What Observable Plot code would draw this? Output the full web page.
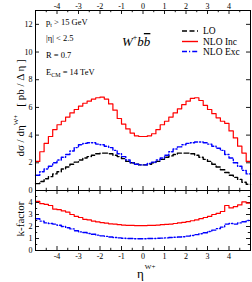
<!DOCTYPE html>
<html><head><meta charset="utf-8">
<script src="https://cdn.jsdelivr.net/npm/d3@7"></script>
<script src="https://cdn.jsdelivr.net/npm/@observablehq/plot@0.6"></script>
<style>
body{margin:0;background:#fff;}
#chart{position:relative;width:252px;height:282px;font-family:"Liberation Serif",serif;}
#chart svg{display:block;}
</style></head><body><div id="chart"></div>
<script>
// ---- data ----
const etaCenters = [-4.9,-4.7,-4.5,-4.3,-4.1,-3.9,-3.7,-3.5,-3.3,-3.1,-2.9,-2.7,-2.5,-2.3,-2.1,-1.9,-1.7,-1.5,-1.3,-1.1,-0.9,-0.7,-0.5,-0.3,-0.1,0.1,0.3,0.5,0.7,0.9,1.1,1.3,1.5,1.7,1.9,2.1,2.3,2.5,2.7,2.9,3.1,3.3,3.5,3.7,3.9,4.1,4.3,4.5,4.7,4.9];
const binWidth = 0.2;
const lo = [0.5,0.65,0.85,1.0,1.2,1.35,1.55,1.7,1.9,2.05,2.2,2.35,2.45,2.55,2.65,2.7,2.7,2.65,2.55,2.45,2.3,2.1,2.0,1.9,1.85,1.85,1.9,2.0,2.1,2.25,2.4,2.5,2.6,2.7,2.7,2.7,2.65,2.55,2.4,2.25,2.1,1.9,1.7,1.5,1.3,1.1,0.95,0.8,0.6,0.45];
const nloInc = [2.1,2.8,3.4,3.9,4.4,4.75,5.0,5.3,5.6,5.85,6.1,6.3,6.45,6.6,6.7,6.75,6.6,6.25,5.8,5.2,4.8,4.45,4.15,3.95,3.9,3.9,3.95,4.1,4.4,4.75,5.0,5.3,5.6,5.9,6.2,6.45,6.65,6.7,6.5,6.15,5.85,5.55,5.25,5.0,4.85,4.3,3.8,3.2,2.7,2.1];
const nloExc = [1.1,1.35,1.55,1.75,2.0,2.2,2.4,2.6,2.85,3.1,3.3,3.4,3.45,3.45,3.35,3.3,3.2,3.1,2.9,2.65,2.45,2.2,2.0,1.9,1.85,1.85,1.95,2.05,2.2,2.35,2.55,2.8,3.0,3.15,3.3,3.4,3.45,3.5,3.5,3.45,3.35,3.2,3.05,2.9,2.6,2.35,2.0,1.75,1.45,1.2];
const kInc = [4.1,3.9,3.85,3.75,3.45,3.4,3.3,3.2,3.0,2.85,2.75,2.6,2.55,2.45,2.38,2.33,2.28,2.22,2.2,2.15,2.12,2.1,2.1,2.08,2.08,2.08,2.1,2.1,2.12,2.15,2.18,2.2,2.25,2.3,2.35,2.4,2.48,2.55,2.65,2.75,2.85,3.0,3.1,3.25,3.75,3.55,3.65,3.8,4.05,3.95];
const kExc = [2.65,2.45,2.3,2.25,2.2,2.1,2.0,1.9,1.8,1.65,1.55,1.5,1.42,1.35,1.28,1.22,1.18,1.12,1.08,1.05,1.02,1.0,1.0,0.98,0.98,0.98,1.0,1.0,1.02,1.03,1.05,1.08,1.1,1.12,1.15,1.2,1.25,1.32,1.4,1.48,1.58,1.7,1.82,1.95,2.2,2.25,2.2,2.3,2.4,2.5];
const xMajor = [-4,-3,-2,-1,0,1,2,3,4];
const xMinor = [-4.5,-3.5,-2.5,-1.5,-0.5,0.5,1.5,2.5,3.5,4.5];
const yTopMajor = [0,2,4,6,8,10,12];
const yBotMajor = [0,1,2,3,4,5];
const yBotLabels = [0,1,2,3,4];
const yBotMinor = [0.5,1.5,2.5,3.5,4.5];
const legendNames = ["LO","NLO Inc","NLO Exc"];
const cutLines = ["p","|η| < 2.5","R = 0.7","E"];

// ---- helpers ----
function steps(vals){
  const pts = etaCenters.map((c,i)=>({x:c-binWidth/2, y:vals[i]}));
  pts.push({x:etaCenters[etaCenters.length-1]+binWidth/2, y:vals[vals.length-1]});
  return pts;
}
const xDom = [-5,5];
const xPerPx = (xDom[1]-xDom[0])/215;
function frameTicks(yMaj, yMin, yTop, yPerPx){
  const M = 4, m = 2.2, sw = 0.9;
  const o = {stroke:"black", strokeWidth:sw};
  const out = [
    Plot.ruleX(xMajor, {...o, x:d=>d, y1:yTop, y2:yTop-M*yPerPx}),
    Plot.ruleX(xMajor, {...o, x:d=>d, y1:0, y2:M*yPerPx}),
    Plot.ruleX(xMinor, {...o, x:d=>d, y1:yTop, y2:yTop-m*yPerPx}),
    Plot.ruleX(xMinor, {...o, x:d=>d, y1:0, y2:m*yPerPx}),
    Plot.ruleY(yMaj, {...o, y:d=>d, x1:xDom[0], x2:xDom[0]+M*xPerPx}),
    Plot.ruleY(yMaj, {...o, y:d=>d, x1:xDom[1], x2:xDom[1]-M*xPerPx})
  ];
  if (yMin) {
    out.push(Plot.ruleY(yMin, {...o, y:d=>d, x1:xDom[0], x2:xDom[0]+m*xPerPx}));
    out.push(Plot.ruleY(yMin, {...o, y:d=>d, x1:xDom[1], x2:xDom[1]-m*xPerPx}));
  }
  return out;
}
const styleBase = {fontFamily:"Liberation Serif", fontSize:"8px", background:"white", overflow:"visible", color:"black"};

// ---- top panel ----
const topYDom = [0,13];
const topPlot = Plot.plot({
  width:252, height:190, marginLeft:35, marginRight:2, marginTop:10, marginBottom:0,
  style: styleBase,
  x:{domain:xDom}, y:{domain:topYDom},
  marks:[
    Plot.axisX({anchor:"top", ticks:xMajor, tickSize:0, tickPadding:2, label:null, tickFormat:d=>String(d)}),
    Plot.axisY({anchor:"left", ticks:yTopMajor, tickSize:0, tickPadding:3, label:null, tickFormat:d=>String(d)}),
    ...frameTicks(yTopMajor, null, topYDom[1], (topYDom[1]-topYDom[0])/180),
    Plot.line(steps(lo), {x:"x", y:"y", curve:"step-after", stroke:"black", strokeWidth:1.4, strokeDasharray:"5,2.5"}),
    Plot.line(steps(nloExc), {x:"x", y:"y", curve:"step-after", stroke:"#0000ff", strokeWidth:1.4, strokeDasharray:"5,2,1.2,2"}),
    Plot.line(steps(nloInc), {x:"x", y:"y", curve:"step-after", stroke:"#ff0000", strokeWidth:1.2}),
    Plot.frame({stroke:"black", strokeWidth:1})
  ]
});

// ---- bottom panel ----
const botYDom = [0,5];
const botPlot = Plot.plot({
  width:252, height:92, marginLeft:35, marginRight:2, marginTop:0, marginBottom:32,
  style: styleBase,
  x:{domain:xDom}, y:{domain:botYDom},
  marks:[
    Plot.axisX({anchor:"bottom", ticks:xMajor, tickSize:0, tickPadding:3, label:null, tickFormat:d=>String(d)}),
    Plot.axisY({anchor:"left", ticks:yBotLabels, tickSize:0, tickPadding:3, label:null, tickFormat:d=>String(d)}),
    ...frameTicks(yBotMajor, yBotMinor, botYDom[1], (botYDom[1]-botYDom[0])/60),
    Plot.line(steps(kExc), {x:"x", y:"y", curve:"step-after", stroke:"#0000ff", strokeWidth:1.4, strokeDasharray:"5,2,1.2,2"}),
    Plot.line(steps(kInc), {x:"x", y:"y", curve:"step-after", stroke:"#ff0000", strokeWidth:1.2}),
    Plot.frame({stroke:"black", strokeWidth:1})
  ]
});

const chart = document.getElementById("chart");
chart.appendChild(topPlot);
chart.appendChild(botPlot);

// ---- text annotations ----
const ts = d3.select(topPlot);
const ff = "Liberation Serif";
function txt(sel, x, y, size){
  return sel.append("text").attr("x",x).attr("y",y).attr("font-family",ff)
    .attr("font-size",size).attr("fill","black").attr("text-anchor","start");
}
// y label (top)
const yl = ts.append("text").attr("transform","translate(24,108) rotate(-90)")
  .attr("text-anchor","middle").attr("font-family",ff).attr("font-size",11).attr("fill","black");
yl.append("tspan").text("dσ / dη");
yl.append("tspan").attr("font-size",7).attr("dy",-6).text("W+");
yl.append("tspan").attr("dy",6).attr("dx",8).text("[ pb / Δ η ]");
// cuts
const cutY = [25,41,58,75];
const c0 = txt(ts,46,cutY[0],8.5);
c0.append("tspan").text(cutLines[0]);
c0.append("tspan").attr("font-size",6).attr("dy",2).text("t");
c0.append("tspan").attr("dy",-2).text(" > 15 GeV");
txt(ts,46,cutY[1],8.5).text(cutLines[1]);
txt(ts,46,cutY[2],8.5).text(cutLines[2]);
const c3 = txt(ts,46,cutY[3],8.5);
c3.append("tspan").text(cutLines[3]);
c3.append("tspan").attr("font-size",6).attr("dy",2).text("CM");
c3.append("tspan").attr("dy",-2).text(" = 14 TeV");
// process title
const tt = txt(ts,122,46,13).attr("font-style","italic");
tt.append("tspan").text("W");
tt.append("tspan").attr("font-size",8).attr("dy",-6).attr("font-style","normal").text("+");
tt.append("tspan").attr("dy",6).text("b");
tt.append("tspan").attr("text-decoration","overline").text("b");
// legend
const legY = [31,41.5,51.5];
const legStyles = [
  {stroke:"black", dash:"5,2.5"},
  {stroke:"#ff0000", dash:null},
  {stroke:"#0000ff", dash:"5,2,1.2,2"}
];
legendNames.forEach((n,i)=>{
  const l = ts.append("line").attr("x1",182).attr("x2",198).attr("y1",legY[i]).attr("y2",legY[i])
    .attr("stroke",legStyles[i].stroke).attr("stroke-width",1.4);
  if (legStyles[i].dash) l.attr("stroke-dasharray",legStyles[i].dash);
  txt(ts,203,legY[i]+3.2,9.5).text(n);
});
// bottom labels
const bs = d3.select(botPlot);
bs.append("text").attr("transform","translate(24,29) rotate(-90)").attr("text-anchor","middle")
  .attr("font-family",ff).attr("font-size",11).attr("fill","black").text("k-factor");
const xl = txt(bs,137,88,13);
xl.append("tspan").text("η");
xl.append("tspan").attr("font-size",7).attr("dy",-9).attr("dx",1).text("W+");
</script></body></html>
